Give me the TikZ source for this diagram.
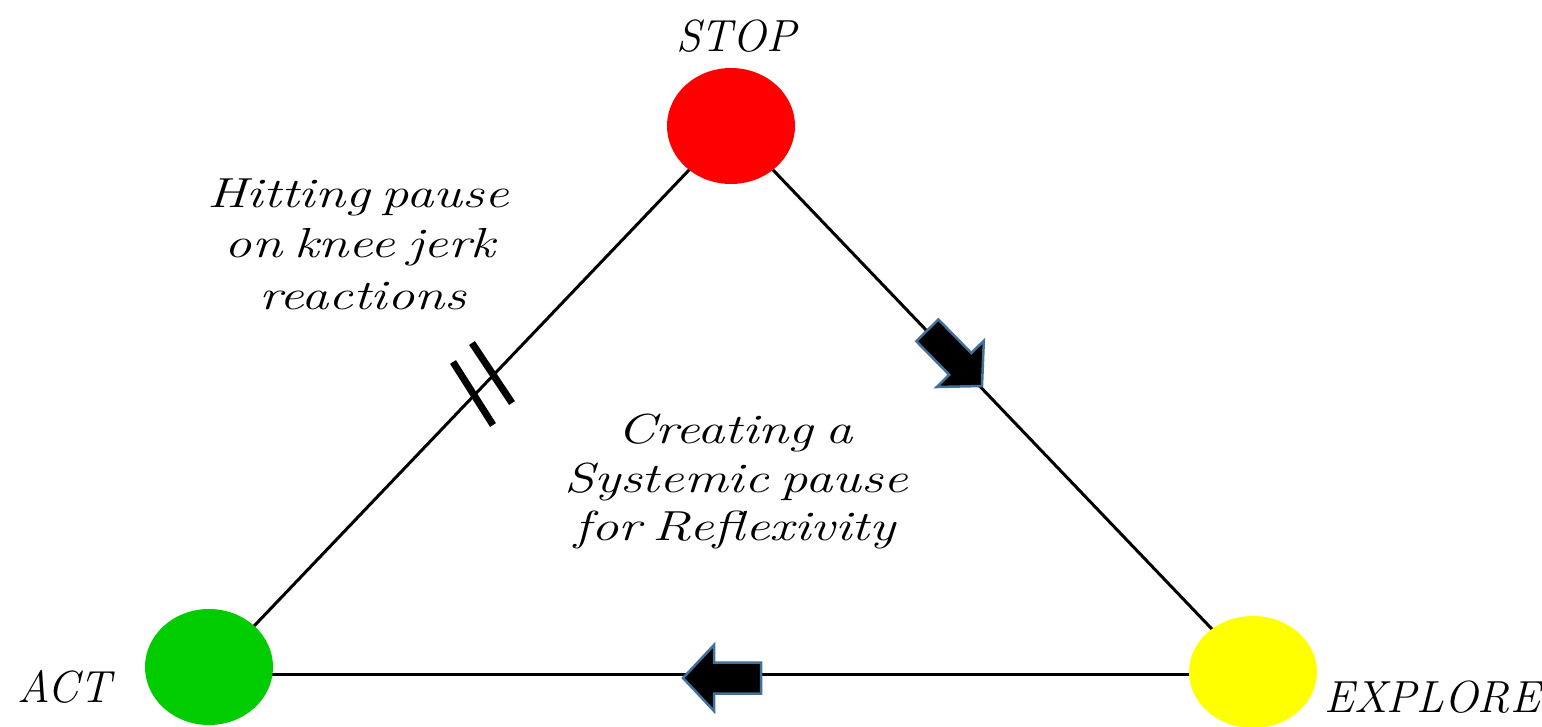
\documentclass[tikz,border=0pt]{standalone}
\usepackage{graphicx}
\usetikzlibrary{shapes.geometric,backgrounds}
\definecolor{stopred}{RGB}{255,0,0}
\definecolor{actgreen}{RGB}{0,204,0}
\definecolor{exploreyellow}{RGB}{255,255,0}
\definecolor{arrowblue}{RGB}{65,113,156}
% hand-style lines: widened, with narrow word gaps
\newcommand\wide[1]{\scalebox{1.3}[1]{\spaceskip=0.22em\relax #1}}
\begin{document}
\begin{tikzpicture}[x=1pt,y=-1pt,
  lamp/.style={ellipse, inner sep=0pt, minimum width=128pt, minimum height=116pt},
  edge/.style={line width=3pt, black},
  lbl/.style={font=\fontsize{45}{54}\selectfont\itshape, inner sep=0pt, anchor=base},
  note/.style={font=\fontsize{42}{51}\selectfont\itshape, inner sep=0pt, anchor=base},
  bar/.style={line width=7pt, black},
  flow/.style={fill=black, draw=arrowblue, line width=2.5pt, line join=miter},
  blockarrow/.pic={\path[flow] (0,0) -- (-31,-33) -- (-31,-15.5) -- (-78,-15.5)
      -- (-78,15.5) -- (-31,15.5) -- (-31,33) -- cycle;}
]
\useasboundingbox (0,0) rectangle (1542,727);

% the three states
\node[lamp, fill=stopred] (stop) at (731,126) {};
\node[lamp, fill=actgreen] (act) at (209,667) {};
\node[lamp, fill=exploreyellow, minimum height=112pt] (explore) at (1253,672) {};

% triangle sides, behind the circles
\begin{scope}[on background layer]
  \draw[edge] (stop.center) -- ([xshift=6pt]act.center);
  \draw[edge] (stop.center) -- (explore.center);
  \draw[edge] ([yshift=-7pt]act.center) -- ([yshift=-2pt]explore.center);
\end{scope}

% direction markers
\pic[rotate=-45.5] at (982,386) {blockarrow};
\pic[rotate=180] at (683,678) {blockarrow};

% pause marks
\draw[bar] (453,362) -- (493,425);
\draw[bar] (472,343) -- (512,403);

% state labels
\node[lbl] (stoplbl) at (736,52) {STOP};
\node[lbl] (actlbl) at (64,702) {ACT};
\node[lbl] (explorelbl) at (1432,712) {EXPLORE};

% side note
\node[note] (n1) at (358,208) {\wide{Hitting pause}};
\node[note] (n2) at (360,258) {\wide{on knee jerk}};
\node[note] (n3) at (363,310) {\wide{reactions}};

% centre text
\node[note] (c1) at (735,443) {\wide{Creating a}};
\node[note] (c2) at (736,492) {\wide{Systemic pause}};
\node[note] (c3) at (735,540) {\wide{for Reflexivity}};
\end{tikzpicture}
\end{document}
